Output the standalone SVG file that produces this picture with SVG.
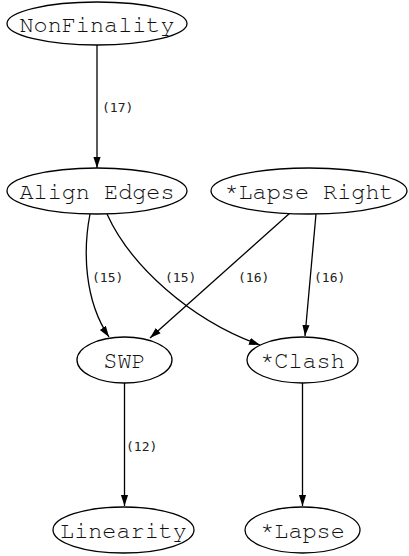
<svg xmlns="http://www.w3.org/2000/svg" width="409" height="556" viewBox="0 0 409 556">
  <style>
    .node ellipse { fill: #ffffff; stroke: #000000; stroke-width: 1.3; }
    .node text { font-family: "Nimbus Mono PS", "FreeMono", "Courier", "Liberation Mono", monospace; font-size: 23.5px; fill: #111111; text-anchor: middle; }
    .edges path { fill: none; stroke: #000000; stroke-width: 1.3; }
    .elabel { font-family: "DejaVu Sans Mono", monospace; font-size: 13px; fill: #222222; }
  </style>
  <defs>
    <marker id="arrow" markerUnits="userSpaceOnUse" markerWidth="12" markerHeight="10" refX="11" refY="4" orient="auto">
      <path d="M0,0.4 L11,4 L0,7.6 Z" fill="#000000"/>
    </marker>
  </defs>

  <!-- connectors -->
  <g id="edges" class="edges">
    <path d="M97,45 L97,168" marker-end="url(#arrow)"/>
    <path d="M90,214 C83,250 84,300 109,337" marker-end="url(#arrow)"/>
    <path d="M107,214 C130,265 190,320 260,345" marker-end="url(#arrow)"/>
    <path d="M290,213 L150,338" marker-end="url(#arrow)"/>
    <path d="M316,214 L305,336" marker-end="url(#arrow)"/>
    <path d="M124.5,383 L124.5,506" marker-end="url(#arrow)"/>
    <path d="M302.5,383 L302.5,506" marker-end="url(#arrow)"/>
    <text class="elabel" x="102" y="112">(17)</text>
    <text class="elabel" x="92" y="282">(15)</text>
    <text class="elabel" x="165" y="282">(15)</text>
    <text class="elabel" x="238" y="282">(16)</text>
    <text class="elabel" x="314" y="282">(16)</text>
    <text class="elabel" x="126" y="451">(12)</text>
  </g>

  <!-- nodes -->
  <g id="nonfinality" class="node">
    <ellipse cx="97" cy="23.5" rx="90" ry="21.5"/>
    <text x="97" y="31.5">NonFinality</text>
  </g>
  <g id="align-edges" class="node">
    <ellipse cx="97" cy="191" rx="90" ry="23"/>
    <text x="97" y="199">Align Edges</text>
  </g>
  <g id="lapse-right" class="node">
    <ellipse cx="309" cy="191" rx="98" ry="23"/>
    <text x="309" y="199">*Lapse Right</text>
  </g>
  <g id="swp" class="node">
    <ellipse cx="124.5" cy="360" rx="47.5" ry="23"/>
    <text x="124.5" y="368">SWP</text>
  </g>
  <g id="clash" class="node">
    <ellipse cx="302.5" cy="360" rx="55.5" ry="23"/>
    <text x="302.5" y="368">*Clash</text>
  </g>
  <g id="linearity" class="node">
    <ellipse cx="123.5" cy="530" rx="70.5" ry="23"/>
    <text x="123.5" y="538">Linearity</text>
  </g>
  <g id="lapse" class="node">
    <ellipse cx="302.5" cy="530" rx="57.5" ry="23"/>
    <text x="302.5" y="538">*Lapse</text>
  </g>
</svg>
